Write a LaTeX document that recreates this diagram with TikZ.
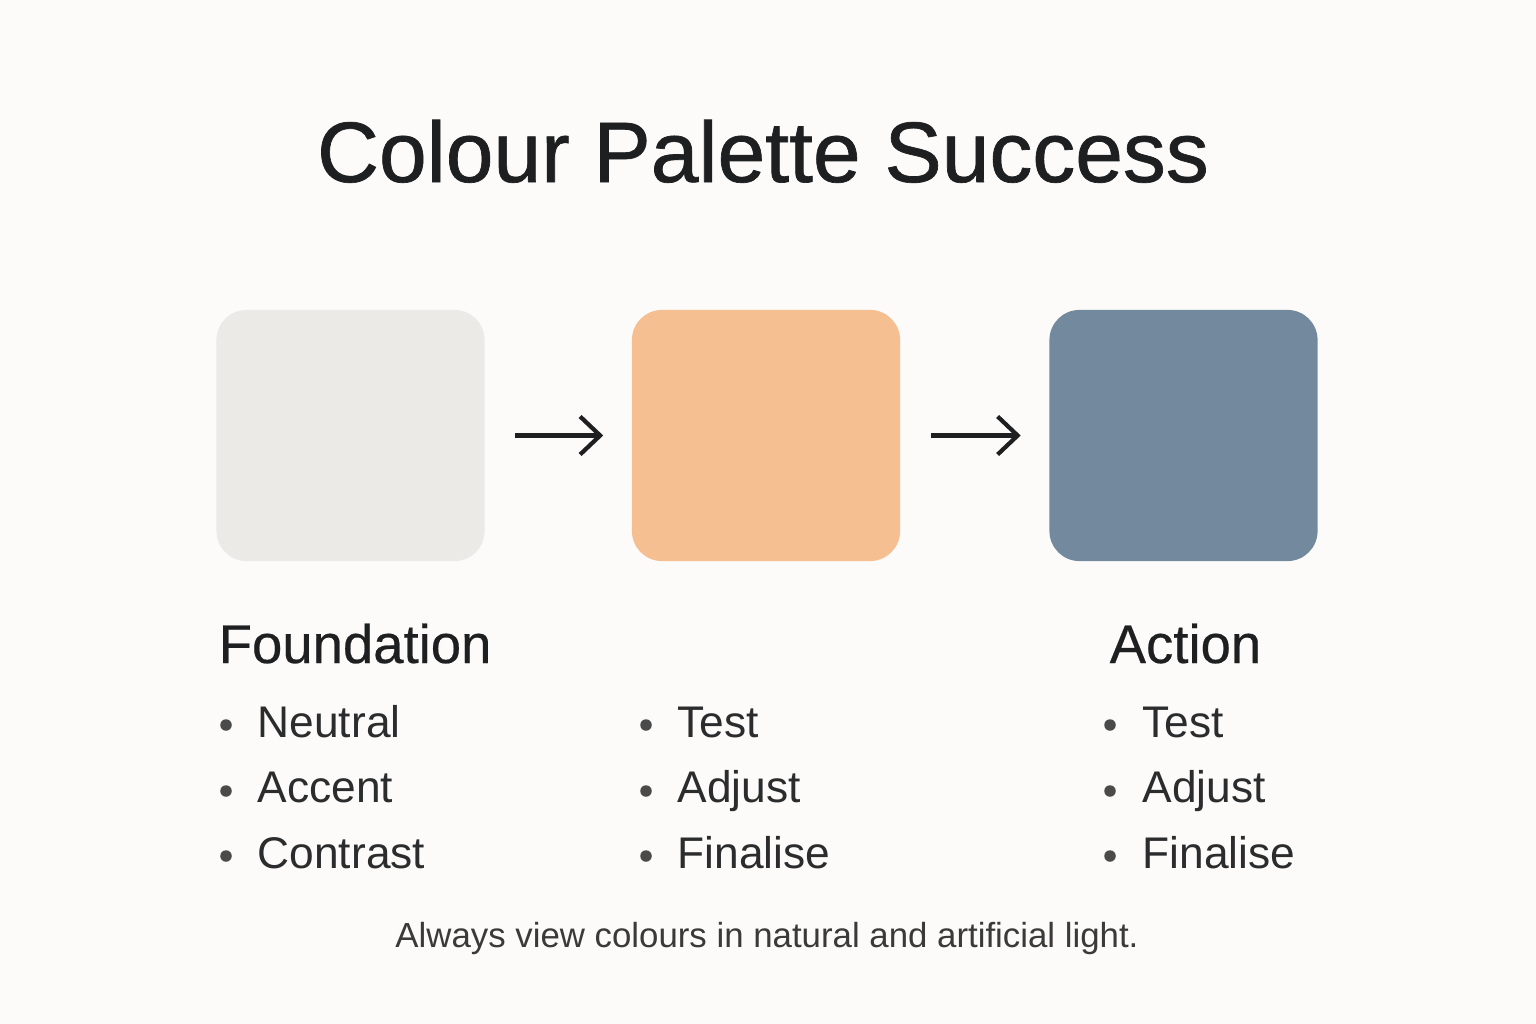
\documentclass[tikz,border=0pt]{standalone}
\usepackage{fontspec}
\setmainfont{Liberation Sans}
\newfontfamily\titlefont[FakeBold=0.8]{Liberation Sans}
\newfontfamily\headfont[FakeBold=0.4]{Liberation Sans}
\usepackage{xcolor}
\usetikzlibrary{positioning,arrows.meta}
\definecolor{bgcol}{HTML}{FCFBF9}
\definecolor{ink}{HTML}{1E1F21}
\definecolor{softink}{HTML}{2B2C2E}
\definecolor{dotgray}{HTML}{4A4A4A}
\definecolor{notegray}{HTML}{3A3A3A}
\definecolor{neutralcol}{HTML}{EBEAE7}
\definecolor{accentcol}{HTML}{F5BF91}
\definecolor{contrastcol}{HTML}{738A9E}
\tikzset{
  swatch/.style={minimum width=2.68cm,minimum height=2.51cm,rounded corners=0.3cm,inner sep=0pt},
  flow/.style={draw=ink,line width=1.2pt,-{Straight Barb[length=2mm,width=3.8mm,line width=1.2pt]},shorten <=0.3cm,shorten >=0.28cm},
  head/.style={anchor=base west,text=ink,font=\headfont\fontsize{15.5}{18}\selectfont,inner sep=0pt},
  item/.style={anchor=base west,text=softink,font=\fontsize{12.6}{15}\selectfont,inner sep=0pt},
  dot/.style={circle,fill=dotgray,minimum size=0.115cm,inner sep=0pt}
}

\begin{document}
\begin{tikzpicture}[x=0.01cm,y=-0.01cm]
  % background
  \fill[bgcol] (0,0) rectangle (1536,1024);
  % title
  \node[anchor=base,text=ink,font=\titlefont\fontsize{24.4}{29}\selectfont,inner sep=0pt] (title) at(763,182){Colour Palette Success};
  % swatches
  \node[swatch,fill=neutralcol] (neutral) at(350.5,435.5){};
  \node[swatch,fill=accentcol] (accent) at(766,435.5){};
  \node[swatch,fill=contrastcol] (contrast) at(1183.5,435.5){};
  % arrows
  \draw[flow] (neutral) -- (accent);
  \draw[flow] (accent) -- (contrast);
  % headings
  \node[head] (found) at(218,663){Foundation};
  \node[head] (action) at(1109,663){Action};
  % list 1
  \node[dot] (d11) at(226,725){};
  \node[item] (neutraltxt) at(257,737){Neutral};
  \node[dot] (d12) at(226,791){};
  \node[item] (accenttxt) at(257,802){Accent};
  \node[dot] (d13) at(226,856){};
  \node[item] (contrasttxt) at(257,868){Contrast};
  % list 2
  \node[dot] (d21) at(646,725){};
  \node[item] (testmid) at(677,737){Test};
  \node[dot] (d22) at(646,791){};
  \node[item] (adjustmid) at(677,802){Adjust};
  \node[dot] (d23) at(646,856){};
  \node[item] (finalmid) at(677,868){Finalise};
  % list 3
  \node[dot] (d31) at(1110,725){};
  \node[item] (testright) at(1142,737){Test};
  \node[dot] (d32) at(1110,791){};
  \node[item] (adjustright) at(1142,802){Adjust};
  \node[dot] (d33) at(1110,856){};
  \node[item] (finalright) at(1142,868){Finalise};
  % note
  \node[anchor=base,text=notegray,font=\fontsize{9.9}{12}\selectfont,inner sep=0pt] (note) at(767,947){Always view colours in natural and artificial light.};
\end{tikzpicture}
\end{document}
